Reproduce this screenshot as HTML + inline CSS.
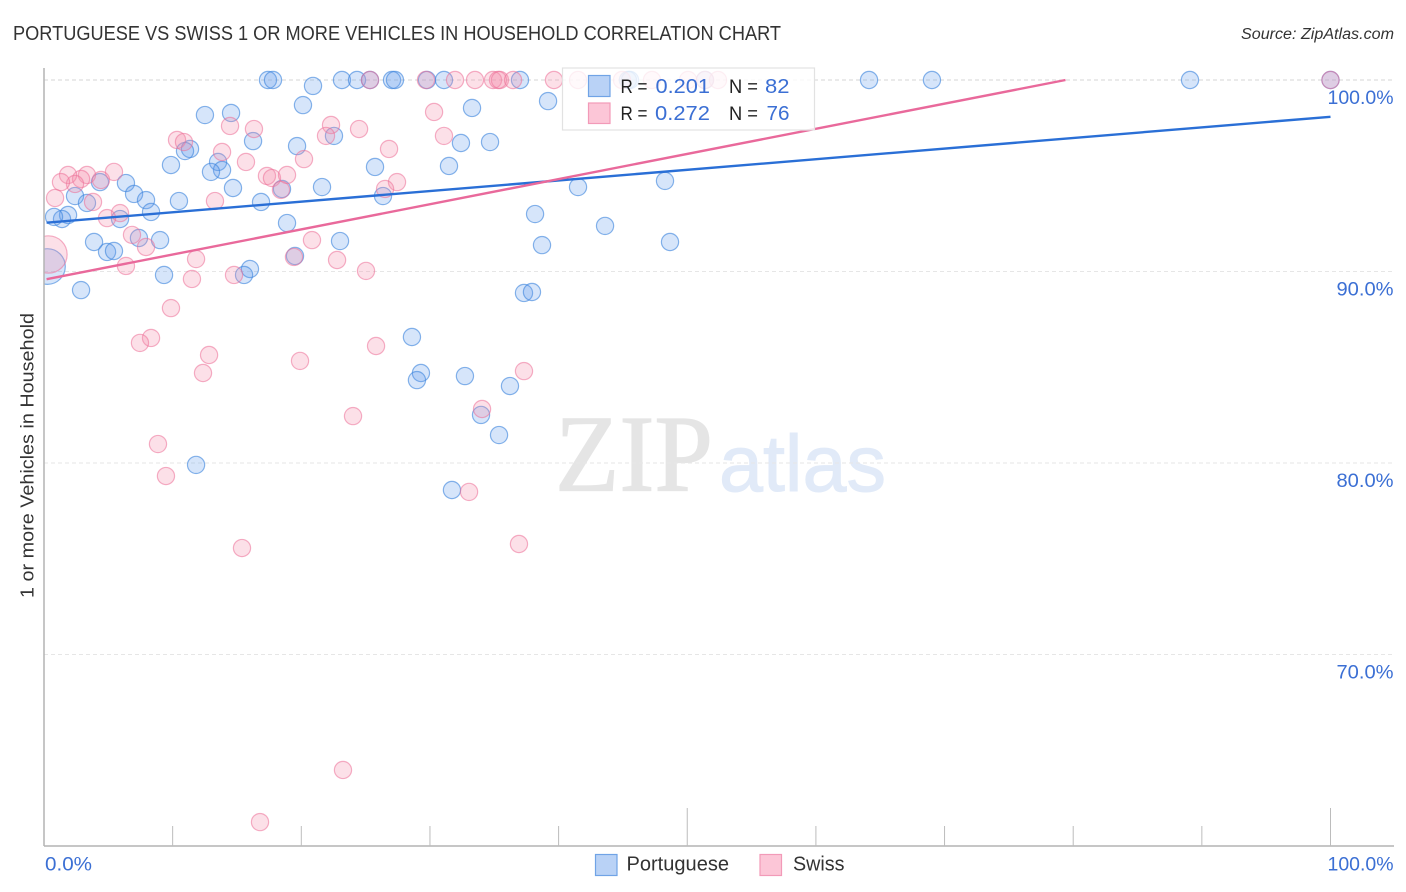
<!DOCTYPE html>
<html lang="en">
<head>
<meta charset="utf-8">
<title>Portuguese vs Swiss 1 or More Vehicles in Household Correlation Chart</title>
<style>
  html, body { margin: 0; padding: 0; background: #ffffff; }
  #chart { display: block; width: 1406px; height: 892px; font-family: "Liberation Sans", sans-serif; }
</style>
</head>
<body>
<svg id="chart" xmlns="http://www.w3.org/2000/svg" width="1406" height="892" viewBox="0 0 1406 892">
  <defs>
    <clipPath id="plot-clip"><rect x="44" y="60" width="1350" height="786"></rect></clipPath>
  </defs>
  <rect x="0" y="0" width="1406" height="892" fill="#ffffff"></rect>

  <text x="13" y="40" font-size="20" fill="#333333" textLength="768" lengthAdjust="spacingAndGlyphs">PORTUGUESE VS SWISS 1 OR MORE VEHICLES IN HOUSEHOLD CORRELATION CHART</text>
  <text x="1241" y="39" font-size="15.5" font-style="italic" fill="#333333" textLength="153" lengthAdjust="spacingAndGlyphs">Source: ZipAtlas.com</text>

  <g>
    <text x="555" y="490.5" font-family="'Liberation Serif', serif" font-size="109" fill="#e5e5e5" stroke="#e5e5e5" stroke-width="1.2" textLength="158" lengthAdjust="spacingAndGlyphs">ZIP</text>
    <text x="719" y="491" font-size="80" fill="#e1eaf8" stroke="#e1eaf8" stroke-width="1" textLength="167" lengthAdjust="spacingAndGlyphs">atlas</text>
  </g>

  <g id="grid"></g>
  <g id="marks" clip-path="url(#plot-clip)"></g>
  <g id="trends"></g>
  <g id="axes"></g>

  <text transform="translate(33.5,598) rotate(-90)" font-size="18.5" fill="#333333" textLength="285" lengthAdjust="spacingAndGlyphs">1 or more Vehicles in Household</text>

  <g>
    <rect x="562.5" y="68" width="252" height="62" fill="#ffffff" fill-opacity="0.8" stroke="#e2e2e2" stroke-width="1.2"></rect>
    <rect x="588.5" y="75.5" width="21.5" height="21" fill="#b9d2f6" stroke="#70a3e6" stroke-width="1.2"></rect>
    <rect x="588.5" y="103" width="21.5" height="20.5" fill="#fcc6d7" stroke="#f29ab8" stroke-width="1.2"></rect>
    <text x="620.5" y="93" font-size="19.5" fill="#222222" textLength="27" lengthAdjust="spacingAndGlyphs">R =</text>
    <text x="655.5" y="93" font-size="20.5" fill="#3b6fd4" textLength="54.5" lengthAdjust="spacingAndGlyphs">0.201</text>
    <text x="729" y="93" font-size="19.5" fill="#222222" textLength="29" lengthAdjust="spacingAndGlyphs">N =</text>
    <text x="765" y="93" font-size="20.5" fill="#3b6fd4" textLength="24.5" lengthAdjust="spacingAndGlyphs">82</text>
    <text x="620.5" y="120" font-size="19.5" fill="#222222" textLength="27" lengthAdjust="spacingAndGlyphs">R =</text>
    <text x="655" y="120" font-size="20.5" fill="#3b6fd4" textLength="55" lengthAdjust="spacingAndGlyphs">0.272</text>
    <text x="729" y="120" font-size="19.5" fill="#222222" textLength="29" lengthAdjust="spacingAndGlyphs">N =</text>
    <text x="766.5" y="120" font-size="20.5" fill="#3b6fd4" textLength="23" lengthAdjust="spacingAndGlyphs">76</text>
  </g>

  <g>
    <g>
      <rect x="595.5" y="854.5" width="21.5" height="21" fill="#b9d2f6" stroke="#70a3e6" stroke-width="1.2"></rect>
      <text x="626.5" y="870.5" font-size="20" fill="#333333" textLength="102.5" lengthAdjust="spacingAndGlyphs">Portuguese</text>
    </g>
    <g>
      <rect x="760" y="854.5" width="21.5" height="21" fill="#fcc6d7" stroke="#f29ab8" stroke-width="1.2"></rect>
      <text x="793" y="870.5" font-size="20" fill="#333333" textLength="51.5" lengthAdjust="spacingAndGlyphs">Swiss</text>
    </g>
  </g>
</svg>

<script>
// Chart values (percent units).
var yTickValues = [100, 90, 80, 70];
var yTickLabels = ["100.0%", "90.0%", "80.0%", "70.0%"];
var xTickValues = [10, 20, 30, 40, 50, 60, 70, 80, 90, 100];
var xMajorTicks = [50, 100];
var xEndLabels = ["0.0%", "100.0%"];

var portugueseTrendX = [0.2, 100];
var portugueseTrendY = [92.55, 98.08];
var swissTrendX = [0.2, 79.4];
var swissTrendY = [89.6, 100];

// The first point of each series is the heavily weighted one.
var portugueseWeights = [4.3];
var swissWeights = [4.7];

var portugueseX = [0.27,
  17.41,17.80,23.16,24.33,25.34,27.05,27.28,29.77,31.09,37.00,45.39,45.55,51.38,64.13,69.02,89.08,100,
  20.91,20.13,12.51,14.54,11.35,10.96,9.87,13.53,13.84,12.98,16.25,19.67,22.54,14.69,21.61,18.50,16.87,10.49,
  6.37,4.35,2.41,3.34,7.00,7.93,8.32,5.91,18.89,1.87,1.40,0.78,3.89,4.90,5.44,7.38,9.02,23.01,19.51,16.01,15.55,9.33,2.88,11.82,
  26.35,39.18,33.27,34.67,32.41,25.73,31.48,41.51,48.27,38.17,43.61,48.66,38.71,37.31,37.93,28.60,29.30,28.99,32.72,36.22,33.97,35.37,31.71];
var portugueseY = [90.26,
  100,100,100,100,100,100,100,100,100,100,100,100,100,100,100,100,100,
  99.69,98.69,98.17,98.28,96.40,96.29,95.56,95.72,95.30,95.20,96.81,96.55,97.08,94.36,94.41,94.31,93.63,93.68,
  94.62,94.67,93.94,93.58,94.05,93.73,93.11,92.74,92.53,92.95,92.74,92.85,91.54,91.02,91.07,91.75,91.64,91.59,90.81,90.13,89.82,89.82,89.03,79.90,
  93.94,98.90,98.54,96.76,96.71,95.46,95.51,94.41,94.73,93.00,92.38,91.54,91.38,88.88,88.93,86.58,84.70,84.33,84.54,84.02,82.51,81.46,78.59];

var swissX = [0.35,
  25.34,29.69,31.95,33.50,34.90,35.29,35.44,36.46,39.64,41.51,44.93,47.26,50.06,51.38,52.39,100,
  10.34,10.88,14.46,16.32,22.31,21.92,13.84,15.70,20.21,17.33,17.72,18.89,18.42,5.44,3.34,4.43,2.88,1.87,2.41,1.32,0.86,3.81,13.29,5.91,4.90,6.84,7.93,20.83,11.82,6.37,11.50,14.77,19.43,22.78,9.87,
  30.32,24.49,26.82,31.09,27.44,26.51,25.03,25.81,37.31,24.02,34.05,33.04,
  8.32,7.46,12.83,12.36,19.90,8.86,9.48,15.39,36.92,23.24,16.79];
var swissY = [90.89,
  100,100,100,100,100,100,100,100,100,100,100,100,100,100,100,100,
  96.87,96.76,97.60,97.44,97.65,97.08,96.24,95.72,95.87,94.99,94.88,95.04,94.26,95.20,95.04,94.78,94.83,95.04,94.57,94.67,93.84,93.63,93.68,93.05,92.79,91.91,91.28,91.64,90.65,90.29,89.61,89.82,90.76,90.60,88.09,
  98.33,97.44,96.40,97.08,94.67,94.31,90.03,86.11,84.80,82.45,82.82,78.49,
  86.53,86.27,85.64,84.70,85.33,80.99,79.32,75.56,75.77,63.97,61.25];

var SVG_NS = "http://www.w3.org/2000/svg";
var gridLayer = document.getElementById("grid");
var marksLayer = document.getElementById("marks");
var trendsLayer = document.getElementById("trends");
var axesLayer = document.getElementById("axes");

function xScale(v) { return 44 + v * 12.865; }
function yScale(v) { return 80 + (100 - v) * 19.15; }
function radiusFor(weight) { return 8.6 * Math.sqrt(weight); }

function make(tag, props, parent) {
  var el = document.createElementNS(SVG_NS, tag);
  Object.keys(props).forEach(function (k) { el.setAttribute(k, props[k]); });
  parent.appendChild(el);
  return el;
}

yTickValues.forEach(function (v, i) {
  var line = make("line", { x1: 44, x2: 1394, y1: yScale(v), y2: yScale(v), stroke: i === 0 ? "#d6d6d6" : "#e6e6e6", "stroke-width": 1, "stroke-dasharray": "4 3" }, gridLayer);
  
  
  var label = make("text", { x: 1393.5, y: yScale(v) + 24, "text-anchor": "end", "font-size": 19, fill: "#3b6fd4", textLength: i === 0 ? 66 : 57, lengthAdjust: "spacingAndGlyphs" }, axesLayer);
  
  
  label.textContent = yTickLabels[i];
});

var yAxisLine = make("line", { x1: 44, x2: 44, y1: 68, y2: 846, stroke: "#b4b4b4", "stroke-width": 1.5 }, axesLayer);



var xAxisLine = make("line", { x1: 44, x2: 1394, y1: 846, y2: 846, stroke: "#b4b4b4", "stroke-width": 1.5 }, axesLayer);



xTickValues.forEach(function (v) {
  var major = xMajorTicks.indexOf(v) >= 0;
  var tick = make("line", { x1: xScale(v), x2: xScale(v), y1: major ? 808 : 826, y2: 846, stroke: "#bcbcbc", "stroke-width": 1 }, axesLayer);
  
  
});

var xLabelStart = make("text", { x: 45, y: 870.5, "font-size": 19, fill: "#3b6fd4", textLength: 47, lengthAdjust: "spacingAndGlyphs" }, axesLayer);


xLabelStart.textContent = xEndLabels[0];

var xLabelEnd = make("text", { x: 1393.5, y: 870.5, "text-anchor": "end", "font-size": 19, fill: "#3b6fd4", textLength: 66, lengthAdjust: "spacingAndGlyphs" }, axesLayer);


xLabelEnd.textContent = xEndLabels[1];

portugueseX.forEach(function (x, i) {
  var w = portugueseWeights[i] || 1;
  var dot = make("circle", { cx: xScale(x), cy: yScale(portugueseY[i]), r: radiusFor(w), fill: "#5f9bea", "fill-opacity": 0.26, stroke: "#3f86dd", "stroke-opacity": 0.62, "stroke-width": 1.2 }, marksLayer);
  
  
});

swissX.forEach(function (x, i) {
  var w = swissWeights[i] || 1;
  var dot = make("circle", { cx: xScale(x), cy: yScale(swissY[i]), r: radiusFor(w), fill: "#f58cab", "fill-opacity": 0.27, stroke: "#ec6f97", "stroke-opacity": 0.55, "stroke-width": 1.2 }, marksLayer);
  
  
});

var portugueseTrend = make("line", { x1: xScale(portugueseTrendX[0]), y1: yScale(portugueseTrendY[0]), x2: xScale(portugueseTrendX[1]), y2: yScale(portugueseTrendY[1]), stroke: "#2a6fd6", "stroke-width": 2.4 }, trendsLayer);



var swissTrend = make("line", { x1: xScale(swissTrendX[0]), y1: yScale(swissTrendY[0]), x2: xScale(swissTrendX[1]), y2: yScale(swissTrendY[1]), stroke: "#e9699b", "stroke-width": 2.4 }, trendsLayer);


</script>
</body>
</html>
